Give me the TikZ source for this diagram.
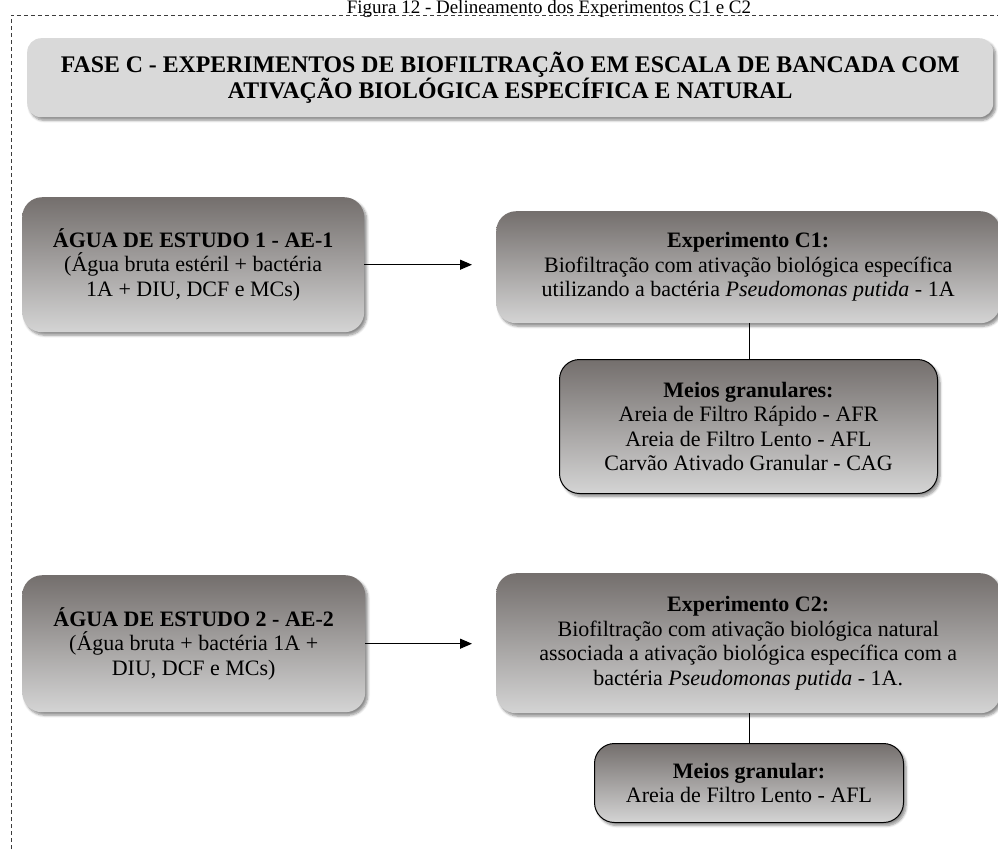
\documentclass[tikz,border=0pt]{standalone}
\usepackage{fontspec}
\setmainfont{Liberation Serif}
\usetikzlibrary{arrows.meta,shadows.blur,positioning}
\definecolor{boxtop}{RGB}{116,111,109}
\definecolor{boxbot}{RGB}{212,212,212}
\definecolor{headfill}{RGB}{217,217,217}
\definecolor{framegray}{RGB}{60,60,60}
\tikzset{
  sombra/.style={blur shadow={shadow xshift=2.5pt, shadow yshift=-3pt,
      shadow blur radius=2.5pt, shadow blur steps=6, shadow opacity=45}},
  fase/.style={rounded corners=14pt, fill=headfill, sombra, inner sep=0pt,
      align=center, anchor=north west,
      font=\fontsize{23.8}{24.5}\selectfont\bfseries},
  caixa/.style={rounded corners=20pt, top color=boxtop, bottom color=boxbot,
      sombra, inner sep=0pt, align=center, anchor=north west,
      font=\fontsize{22}{24.5}\selectfont},
  meios/.style={caixa, draw=black, line width=1pt},
  liga/.style={line width=0.9pt},
  flecha/.style={line width=1.1pt, -{Triangle[length=12pt,width=10pt]},
      shorten >=24pt},
}
\begin{document}
\begin{tikzpicture}[x=1pt, y=-1pt]
\useasboundingbox (0,0) rectangle (998,849);
\draw[framegray, line width=0.8pt, dash pattern=on 4pt off 3pt]
  (11,849) -- (11,15) -- (1000,15);
\node[anchor=base, font=\fontsize{19}{21}\selectfont] (figura) at (549,13)
  {Figura 12 - Delineamento dos Experimentos C1 e C2};

\node[fase, minimum width=966pt, minimum height=79pt] (fasec) at (27,38)
  {FASE C - EXPERIMENTOS DE BIOFILTRAÇÃO EM ESCALA DE BANCADA COM\\
   ATIVAÇÃO BIOLÓGICA ESPECÍFICA E NATURAL};

% experimento C1
\node[caixa, minimum width=342pt, minimum height=135pt] (ae1) at (22,197)
  {{\bfseries ÁGUA DE ESTUDO 1 - AE-1}\\
   (Água bruta estéril + bactéria\\ 1A + DIU, DCF e MCs)};
\node[caixa, minimum width=504pt, minimum height=112pt] (c1) at (496,211)
  {{\bfseries Experimento C1:}\\
   Biofiltração com ativação biológica específica\\
   utilizando a bactéria \textit{Pseudomonas putida} - 1A};
\node[meios, minimum width=378pt, minimum height=134pt] (meios1) at (559,359)
  {{\bfseries Meios granulares:}\\
   Areia de Filtro Rápido - AFR\\
   Areia de Filtro Lento - AFL\\
   Carvão Ativado Granular - CAG};

% experimento C2
\node[caixa, minimum width=343pt, minimum height=137pt] (ae2) at (22,575)
  {{\bfseries ÁGUA DE ESTUDO 2 - AE-2}\\
   (Água bruta + bactéria 1A +\\ DIU, DCF e MCs)};
\node[caixa, minimum width=504pt, minimum height=140pt] (c2) at (496,573)
  {{\bfseries Experimento C2:}\\
   Biofiltração com ativação biológica natural\\
   associada a ativação biológica específica com a\\
   bactéria \textit{Pseudomonas putida} - 1A.};
\node[meios, minimum width=309pt, minimum height=79pt] (meios2) at (594,743)
  {{\bfseries Meios granular:}\\
   Areia de Filtro Lento - AFL};

\draw[flecha] (ae1.east) -- (ae1.east -| c1.west);
\draw[flecha] (ae2.east) -- (ae2.east -| c2.west);
\draw[liga] (meios1.north) ++(1,0) coordinate (m1top) -- (m1top |- c1.south);
\draw[liga] (meios2.north) ++(0,0) coordinate (m2top) -- (m2top |- c2.south);
\end{tikzpicture}
\end{document}
